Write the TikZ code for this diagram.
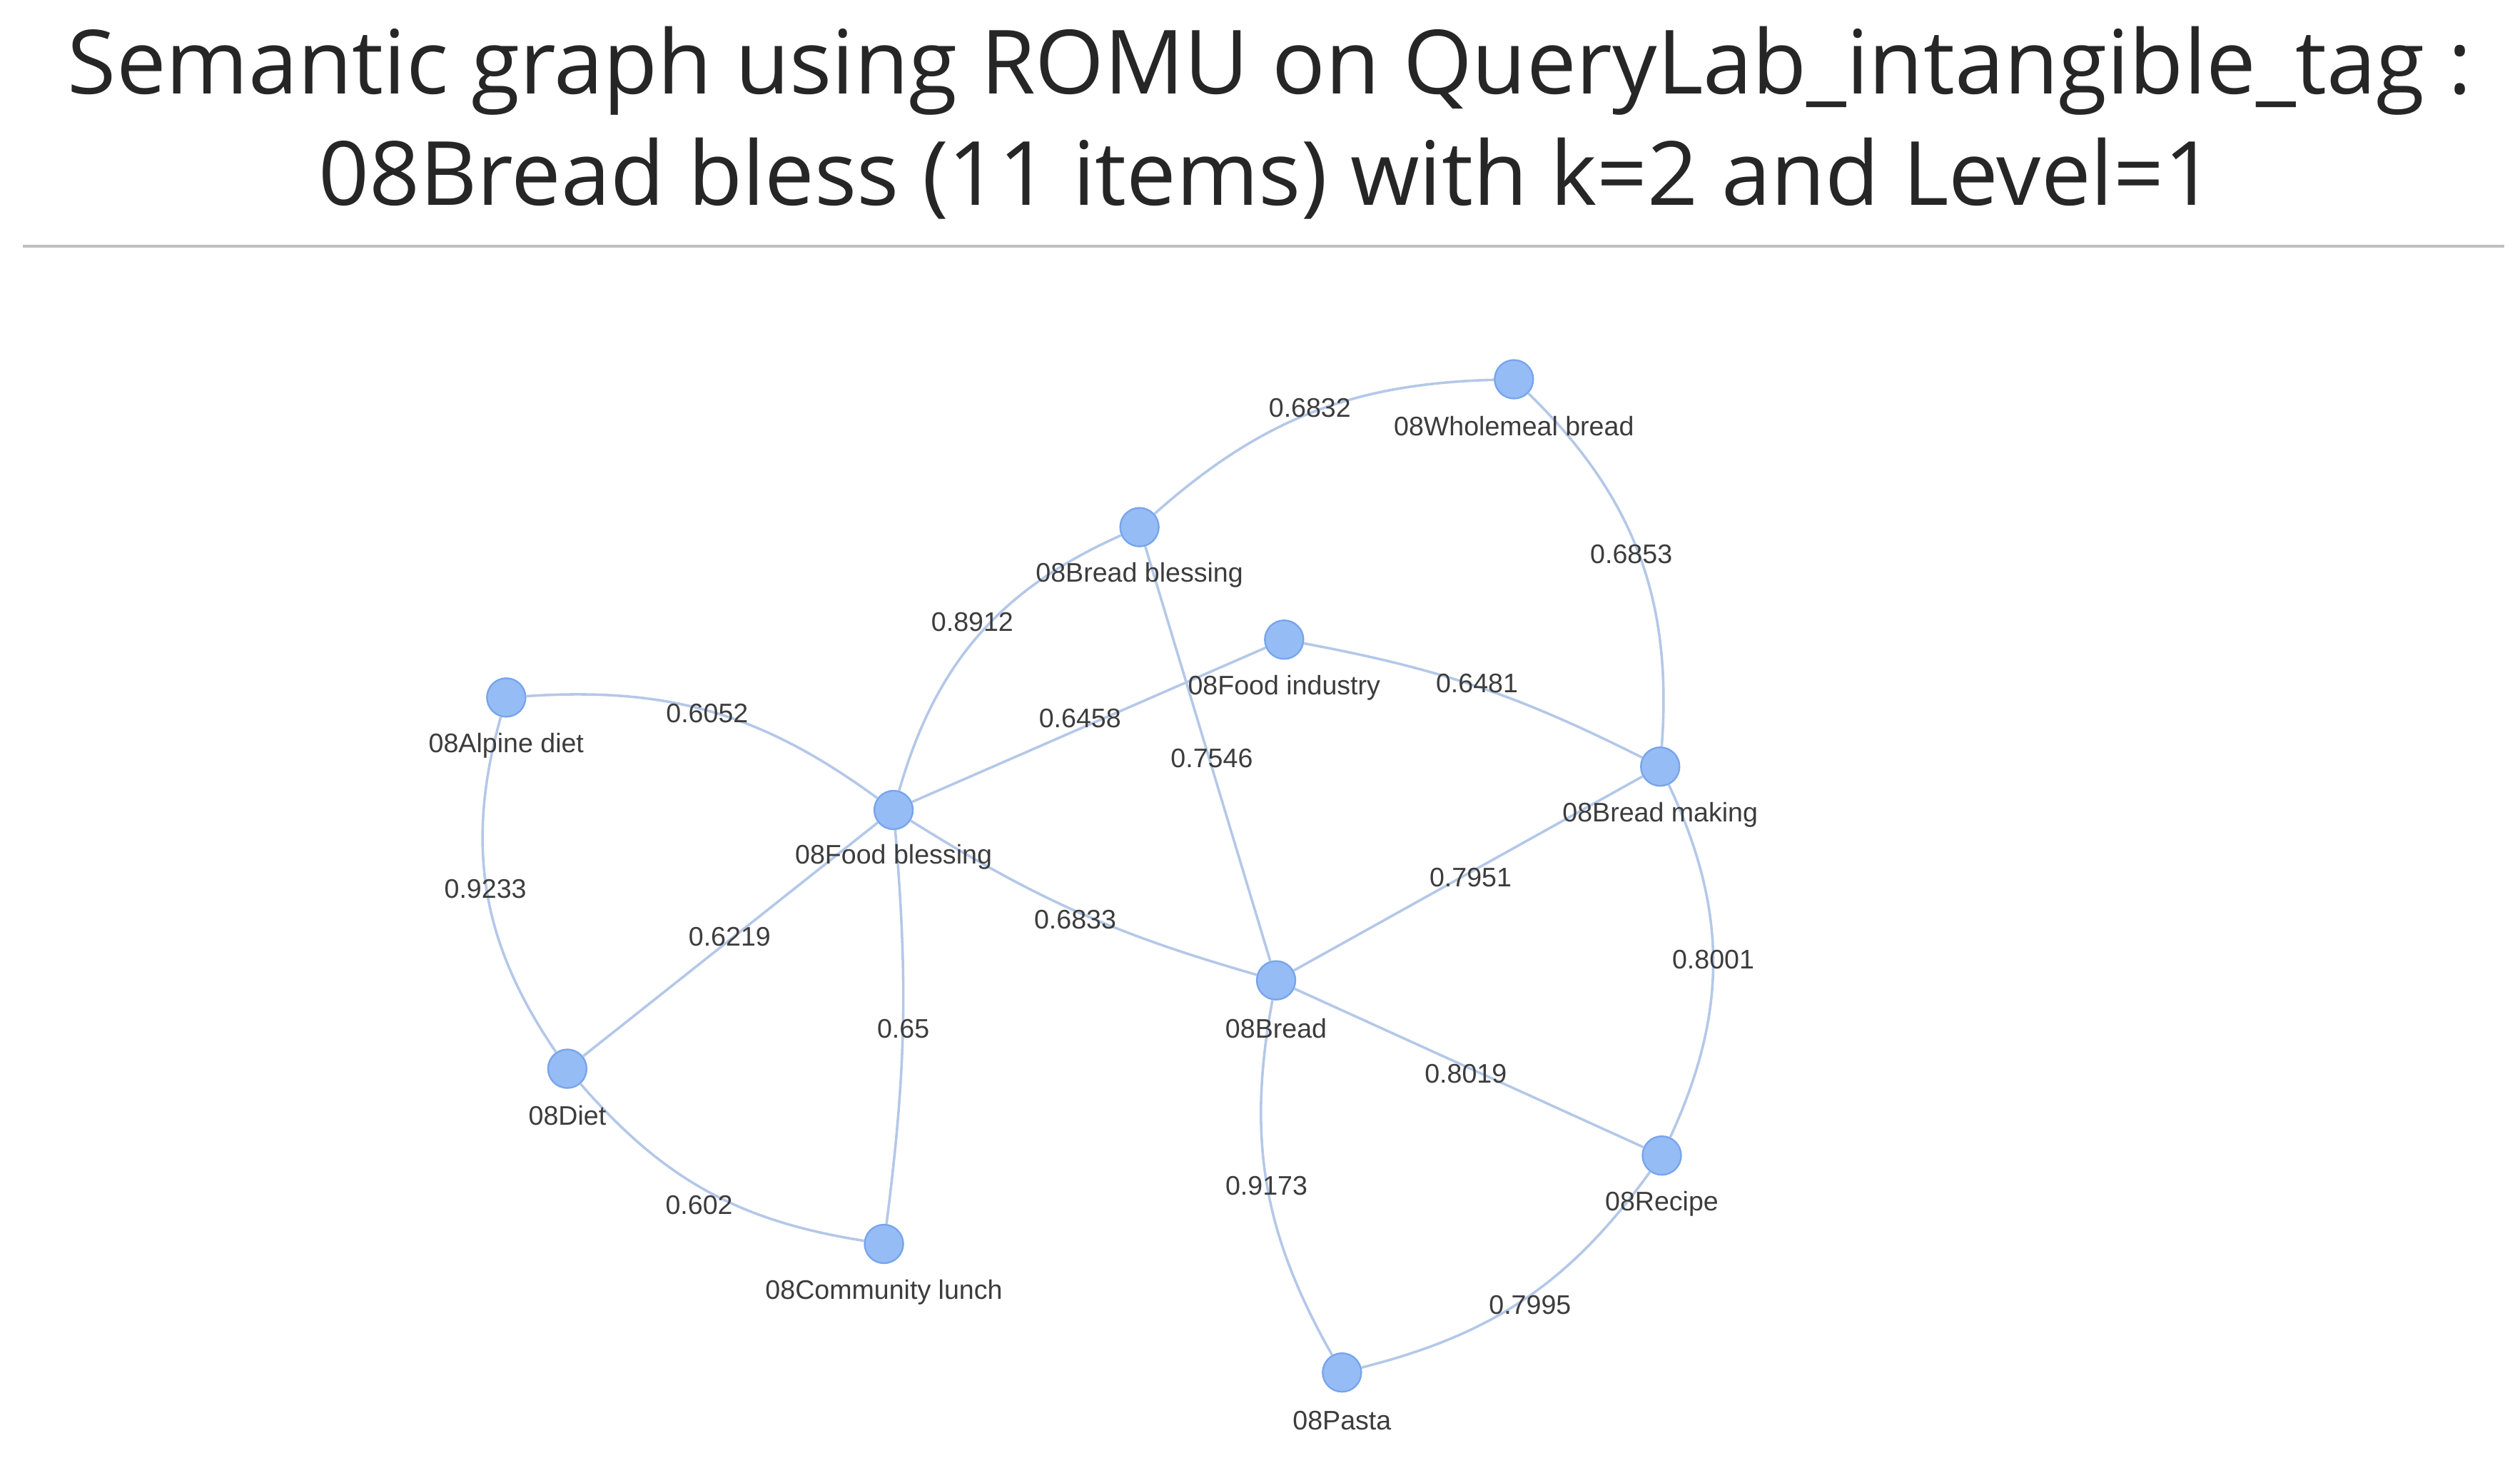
\documentclass[tikz,border=0pt]{standalone}
\usepackage{fontspec}
\setmainfont{Liberation Sans}
\newfontfamily\titlefont{Open Sans}
\usetikzlibrary{positioning}
\definecolor{vertexblue}{RGB}{150,188,245}
\definecolor{vertexrim}{RGB}{120,165,235}
\definecolor{edgeblue}{RGB}{180,200,232}
\definecolor{labelgray}{RGB}{60,60,60}
\begin{document}
\begin{tikzpicture}[x=0.02cm,y=-0.02cm,
    vertex/.style={circle, fill=vertexblue, draw=vertexrim, line width=0.6pt, minimum size=0.48cm, inner sep=0pt},
    tag/.style={font=\fontsize{9.5}{11}\selectfont, text=labelgray},
    weight/.style={font=\fontsize{9.5}{11}\selectfont, text=labelgray},
    link/.style={draw=edgeblue, line width=0.9pt},
    heading/.style={font=\titlefont\fontsize{31.4}{36}\selectfont, text=black!85},
]
\useasboundingbox (0,0) rectangle (1568,907);
% title
\node[heading] (title1) at (790,44) {Semantic graph using ROMU on QueryLab\_intangible\_tag :};
\node[heading] (title2) at (788,111) {08Bread bless (11 items) with k=2 and Level=1};
\coordinate (ruleL) at (14,153);
\coordinate (ruleR) at (1558,153);
\draw[black!25, line width=1pt] (ruleL) -- (ruleR);

% vertices
\node[vertex] (wholemeal) at (942,236) {};
\node[vertex] (breadbless) at (709,328) {};
\node[vertex] (foodind) at (799,398) {};
\node[vertex] (alpine) at (315,434) {};
\node[vertex] (foodbless) at (556,504) {};
\node[vertex] (breadmaking) at (1033,477) {};
\node[vertex] (bread) at (794,610) {};
\node[vertex] (diet) at (353,665) {};
\node[vertex] (recipe) at (1034,719) {};
\node[vertex] (community) at (550,774) {};
\node[vertex] (pasta) at (835,854) {};

% links
\draw[link] (wholemeal) to[bend right=20] (breadbless);
\draw[link] (wholemeal) to[bend left=25] (breadmaking);
\draw[link] (breadbless) to[bend right=25] (foodbless);
\draw[link] (breadbless) -- (bread);
\draw[link] (foodind) -- (foodbless);
\draw[link] (foodind) to[bend left=8] (breadmaking);
\draw[link] (alpine) to[bend left=20] (foodbless);
\draw[link] (alpine) to[bend right=25] (diet);
\draw[link] (foodbless) -- (diet);
\draw[link] (foodbless) to[bend left=6] (community);
\draw[link] (foodbless) to[bend right=8] (bread);
\draw[link] (breadmaking) -- (bread);
\draw[link] (breadmaking) to[bend left=25] (recipe);
\draw[link] (bread) -- (recipe);
\draw[link] (bread) to[bend right=20] (pasta);
\draw[link] (diet) to[bend right=20] (community);
\draw[link] (recipe) to[bend left=20] (pasta);

% vertex tags
\node[tag] (t1) at (942,265) {08Wholemeal bread};
\node[tag] (t2) at (709,358) {08Bread blessing};
\node[tag] (t3) at (799,428) {08Food industry};
\node[tag] (t4) at (315,464) {08Alpine diet};
\node[tag] (t5) at (556,533) {08Food blessing};
\node[tag] (t6) at (1033,507) {08Bread making};
\node[tag] (t7) at (794,640) {08Bread};
\node[tag] (t8) at (353,694) {08Diet};
\node[tag] (t9) at (1034,749) {08Recipe};
\node[tag] (t10) at (550,804) {08Community lunch};
\node[tag] (t11) at (835,884) {08Pasta};

% weights
\node[weight] (w1) at (815,254) {0.6832};
\node[weight] (w2) at (1015,345) {0.6853};
\node[weight] (w3) at (605,387) {0.8912};
\node[weight] (w4) at (754,472) {0.7546};
\node[weight] (w5) at (672,447) {0.6458};
\node[weight] (w6) at (919,425) {0.6481};
\node[weight] (w7) at (440,444) {0.6052};
\node[weight] (w8) at (302,553) {0.9233};
\node[weight] (w9) at (454,583) {0.6219};
\node[weight] (w10) at (562,640) {0.65};
\node[weight] (w11) at (669,572) {0.6833};
\node[weight] (w12) at (915,546) {0.7951};
\node[weight] (w13) at (1066,597) {0.8001};
\node[weight] (w14) at (912,668) {0.8019};
\node[weight] (w15) at (788,738) {0.9173};
\node[weight] (w16) at (435,750) {0.602};
\node[weight] (w17) at (952,812) {0.7995};
\end{tikzpicture}
\end{document}
